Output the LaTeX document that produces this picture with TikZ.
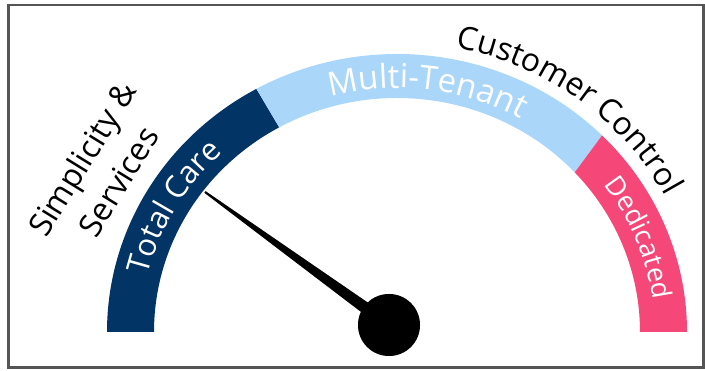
\documentclass[tikz,border=0pt]{standalone}
\usepackage{fontspec}
\setmainfont{Open Sans}
\usetikzlibrary{calc,decorations.text}
\definecolor{navy}{RGB}{3,52,102}
\definecolor{lightband}{RGB}{170,214,250}
\definecolor{pinkband}{RGB}{245,72,120}
\definecolor{framegray}{RGB}{85,85,85}
\tikzset{
  bandtext/.style={decorate, decoration={text along path, text align=center}},
}
\begin{document}
\begin{tikzpicture}[x=1pt,y=1pt]
\useasboundingbox (0,0) rectangle (705,371);
\coordinate (C) at (397,39);
% frame
\draw[framegray, line width=2.5pt] (8.5,366) rectangle (703.5,3.5);
% bands
\fill[navy] ($(C)+(180:290 and 278)$) arc[start angle=180, end angle=119, x radius=290, y radius=278]
  -- ($(C)+(119:243 and 234)$) arc[start angle=119, end angle=180, x radius=243, y radius=234] -- cycle;
\fill[lightband] ($(C)+(119:290 and 278)$) arc[start angle=119, end angle=45, x radius=290, y radius=278]
  -- ($(C)+(43:243 and 234)$) arc[start angle=43, end angle=119, x radius=243, y radius=234] -- cycle;
\fill[pinkband] ($(C)+(45:290 and 278)$) arc[start angle=45, end angle=0, x radius=290, y radius=278]
  -- ($(C)+(0:243 and 234)$) arc[start angle=0, end angle=43, x radius=243, y radius=234] -- cycle;
% band texts
\path[bandtext, decoration={text={|\fontsize{31}{37}\selectfont\color{white}|Total Care}}]
  ($(C)+(180:256 and 245)$) arc[start angle=180, end angle=120, x radius=256, y radius=245];
\path[bandtext, decoration={text={|\fontsize{33}{40}\selectfont\color{white}|Multi-Tenant}}]
  ($(C)+(122:255 and 244)$) arc[start angle=122, end angle=44, x radius=255, y radius=244];
\path[bandtext, decoration={text={|\fontsize{27}{32}\selectfont\color{white}|Dedicated}}]
  ($(C)+(44:258 and 247)$) arc[start angle=44, end angle=0, x radius=258, y radius=247];
% outer label
\path[bandtext, decoration={text={|\fontsize{32}{38}\selectfont\color{black}|Customer Control}}]
  ($(C)+(97:303 and 290)$) arc[start angle=97, end angle=9, x radius=303, y radius=290];
% left label
\node[rotate=58.4, align=center, font=\fontsize{32}{43}\selectfont, inner sep=0pt] (simp) at (100,201) {Simplicity \&\\Services};
% needle
\coordinate (tip) at (205,179);
\coordinate (hub) at (389,46);
\foreach \s/\o in {4/0.08,3/0.12,2/0.16}{
\begin{scope}[shift={(\s,-\s)}, fill=black, opacity=\o]
  \fill ($(tip)!1pt!90:(hub)$) -- ($(tip)!1pt!-90:(hub)$) -- ($(hub)!6.5pt!90:(tip)$) -- ($(hub)!6.5pt!-90:(tip)$) -- cycle;
  \fill (hub) circle[radius=31];
\end{scope}}
\fill[black] ($(tip)!1pt!90:(hub)$) -- ($(tip)!1pt!-90:(hub)$) -- ($(hub)!6.5pt!90:(tip)$) -- ($(hub)!6.5pt!-90:(tip)$) -- cycle;
\fill[black] (hub) circle[radius=31];
\end{tikzpicture}
\end{document}
